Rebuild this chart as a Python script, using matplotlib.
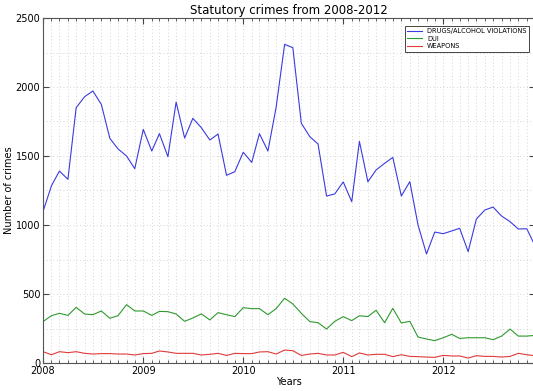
import matplotlib
matplotlib.use("Agg")
import matplotlib.pyplot as plt
import matplotlib.dates as mdates
from matplotlib.ticker import MultipleLocator
import pandas as pd

months = pd.date_range("2008-01-01", "2012-12-01", freq="MS")

drugs_alcohol = [1097, 1285, 1391, 1331, 1850, 1930, 1971, 1874, 1628, 1551,
                 1500, 1408, 1693, 1536, 1662, 1495, 1891, 1630, 1773, 1705,
                 1616, 1659, 1360, 1386, 1527, 1454, 1662, 1536, 1853, 2309,
                 2285, 1737, 1640, 1587, 1210, 1225, 1312, 1169, 1606, 1313,
                 1399, 1447, 1490, 1210, 1314, 1000, 790, 949, 937, 957,
                 976, 807, 1043, 1109, 1130, 1065, 1024, 971, 973, 850]
dui = [300, 343, 360, 345, 403, 355, 350, 377, 324, 343,
       423, 377, 377, 345, 374, 372, 355, 302, 326, 356,
       312, 365, 350, 336, 401, 394, 394, 350, 394, 469,
       428, 360, 300, 292, 246, 302, 336, 307, 342, 337,
       382, 292, 396, 290, 302, 188, 174, 162, 183, 208,
       178, 183, 183, 183, 169, 195, 246, 195, 195, 200]
weapons = [82, 60, 82, 75, 82, 70, 65, 68, 68, 65,
           65, 58, 68, 70, 87, 80, 70, 70, 70, 58,
           63, 70, 55, 70, 68, 68, 80, 82, 65, 94,
           89, 55, 65, 70, 58, 58, 77, 46, 73, 58,
           63, 63, 46, 60, 48, 46, 43, 41, 55, 51,
           51, 36, 53, 48, 48, 43, 48, 70, 60, 53]

plt.rcParams["font.family"] = ["DejaVu Sans"]
plt.rcParams["xtick.direction"] = "in"
plt.rcParams["ytick.direction"] = "in"

W, H = 533, 391
fig = plt.figure(figsize=(W / 100, H / 100), dpi=100)
ax = fig.add_axes([43 / W, 28 / H, 492 / W, 345 / H])

ax.plot(months, drugs_alcohol, color="#3a3ae0", lw=0.8, label="DRUGS/ALCOHOL VIOLATIONS")
ax.plot(months, dui, color="#2e9a2e", lw=0.8, label="DUI")
ax.plot(months, weapons, color="#e03a3a", lw=0.8, label="WEAPONS")

ax.set_xlim(months[0], months[-1])
ax.set_ylim(0, 2500)
ax.xaxis.set_major_locator(mdates.YearLocator())
ax.xaxis.set_major_formatter(mdates.DateFormatter("%Y"))
ax.xaxis.set_minor_locator(mdates.MonthLocator())
ax.yaxis.set_major_locator(MultipleLocator(500))
ax.yaxis.set_minor_locator(MultipleLocator(250))

ax.tick_params(which="both", top=True, right=True, labelsize=7, color="#444444", pad=2)
ax.tick_params(which="major", length=4)
ax.tick_params(which="minor", length=2)
ax.tick_params(axis="y", which="minor", length=0)
ax.grid(True, which="both", linestyle=(0, (1, 3)), color="#c8c8c8", linewidth=0.6)

for s in ax.spines.values():
    s.set_color("#555555")

ax.set_title("Statutory crimes from 2008-2012", fontsize=8.5, pad=3)
ax.set_xlabel("Years", fontsize=7, labelpad=1)
ax.set_ylabel("Number of crimes", fontsize=7, labelpad=1)

leg = ax.legend(loc="upper right", fontsize=4.8, fancybox=False, framealpha=1,
                edgecolor="#444444", handlelength=2.2, borderpad=0.35,
                labelspacing=0.25, handletextpad=0.8,
                bbox_to_anchor=(0.994, 0.987))
leg.get_frame().set_linewidth(0.7)

fig.savefig("out.png", dpi=100)
